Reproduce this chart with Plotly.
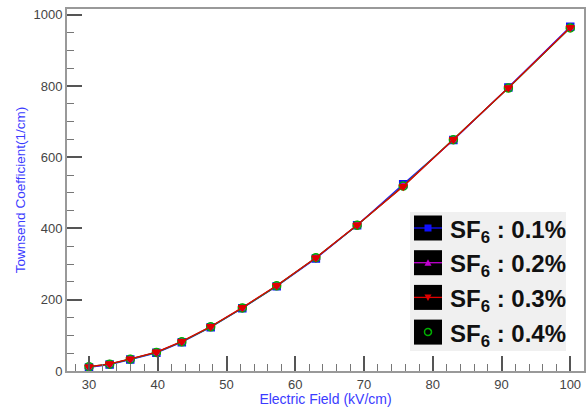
import plotly.graph_objects as go

# Electric field (kV/cm) and Townsend coefficient (1/cm) for each SF6 admixture
field = [30, 33, 36, 39.8, 43.5, 47.7, 52.3, 57.3, 63, 69, 75.7, 83, 91, 100]
alpha_sf6_01 = [10, 18, 32, 51, 81, 123, 176, 238, 316, 409, 524, 648, 796, 966]
alpha_sf6_02 = [11, 19, 33, 52, 82, 124, 177, 239, 317, 410, 520, 649, 795, 964]
alpha_sf6_03 = [12, 20, 34, 53, 83, 125, 178, 240, 318, 410, 518, 650, 795, 964]
alpha_sf6_04 = [12, 19, 33, 52, 82, 124, 177, 239, 318, 409, 519, 649, 794, 963]

labels = ["SF<sub>6</sub> : 0.1%", "SF<sub>6</sub> : 0.2%",
          "SF<sub>6</sub> : 0.3%", "SF<sub>6</sub> : 0.4%"]
x_ticks = [30, 40, 50, 60, 70, 80, 90, 100]
y_ticks = [0, 200, 400, 600, 800, 1000]

FONT = "Liberation Sans, Arial, sans-serif"
BLUE_TXT = "#3b3bff"

series = [
    (alpha_sf6_01, "#1010ff", "square", 7),
    (alpha_sf6_02, "#c000d0", "triangle-up", 7),
    (alpha_sf6_04, "#00b000", "circle-open", 8),
    (alpha_sf6_03, "#e00000", "triangle-down", 7),
]

fig = go.Figure()
for ys, col, sym, sz in series:
    fig.add_trace(go.Scatter(
        x=field, y=ys, mode="lines+markers",
        line=dict(color=col, width=1.3),
        marker=dict(symbol=sym, size=sz, color=col, line=dict(width=1.5, color=col)),
        showlegend=False, hoverinfo="x+y",
    ))

# Plot-area origin in page pixels, used to place the legend box
OX, OY = 67, 371


def pix(kind, x0, y0, x1, y1, **kw):
    return dict(type=kind, xref="paper", yref="paper", xsizemode="pixel",
                ysizemode="pixel", xanchor=0, yanchor=0,
                x0=x0 - OX, x1=x1 - OX, y0=OY - y0, y1=OY - y1, **kw)


def pix_path(points, **kw):
    d = "M" + " L".join(f"{px - OX},{OY - py}" for px, py in points) + " Z"
    return dict(type="path", xref="paper", yref="paper", xsizemode="pixel",
                ysizemode="pixel", xanchor=0, yanchor=0, path=d, **kw)


shapes = [pix("rect", 410, 212, 566, 351, fillcolor="#f0f0f0", line=dict(width=0), layer="above")]
legend_cols = ["#1010ff", "#c000d0", "#e00000", "#00b000"]
annotations = []
for i, (lab, col) in enumerate(zip(labels, legend_cols)):
    cy = 228 + 34.7 * i
    cx = 428
    shapes.append(pix("rect", 414, cy - 12.5, 442, cy + 12.5, fillcolor="#000000",
                      line=dict(width=0), layer="above"))
    if i < 3:
        shapes.append(pix("line", 414, cy, 442, cy, line=dict(color=col, width=1.3), layer="above"))
    if i == 0:
        shapes.append(pix("rect", cx - 3.5, cy - 3.5, cx + 3.5, cy + 3.5, fillcolor=col,
                          line=dict(width=0), layer="above"))
    elif i == 1:
        shapes.append(pix_path([(cx - 3.5, cy + 3), (cx + 3.5, cy + 3), (cx, cy - 3.5)],
                               fillcolor=col, line=dict(width=0), layer="above"))
    elif i == 2:
        shapes.append(pix_path([(cx - 3.5, cy - 3), (cx + 3.5, cy - 3), (cx, cy + 3.5)],
                               fillcolor=col, line=dict(width=0), layer="above"))
    else:
        shapes.append(pix("circle", cx - 3.5, cy - 3.5, cx + 3.5, cy + 3.5,
                          line=dict(color=col, width=1.5), layer="above"))
    annotations.append(dict(
        text=f"<b>{lab}</b>", xref="paper", yref="paper", x=0, y=0,
        xshift=448 - OX, yshift=OY - cy - 3, xanchor="left", yanchor="middle",
        showarrow=False, font=dict(family=FONT, size=24, color="#111111"),
    ))

axis_common = dict(
    ticks="inside", ticklen=15, tickwidth=1.5, tickcolor="#555555",
    showline=True, linecolor="#999999", linewidth=2, mirror=True,
    showgrid=False, zeroline=False,
    tickfont=dict(family=FONT, size=13, color="#444444"),
)

fig.update_layout(
    width=587, height=407,
    margin=dict(l=OX, r=1, t=9, b=407 - OY),
    paper_bgcolor="white", plot_bgcolor="white",
    showlegend=False,
    shapes=shapes, annotations=annotations,
    xaxis=dict(
        range=[26.8, 102], tickvals=x_ticks,
        minor=dict(dtick=2, tick0=0, ticks="inside", ticklen=7, tickwidth=1.2, tickcolor="#777777"),
        title=dict(text="Electric Field (kV/cm)", standoff=4,
                   font=dict(family=FONT, size=14, color=BLUE_TXT)),
        **axis_common,
    ),
    yaxis=dict(
        range=[0, 1016], tickvals=y_ticks,
        minor=dict(dtick=50, tick0=0, ticks="inside", ticklen=7, tickwidth=1.2, tickcolor="#777777"),
        title=dict(text="Townsend Coefficient(1/cm)", standoff=5,
                   font=dict(family=FONT, size=13.5, color=BLUE_TXT)),
        **axis_common,
    ),
)

fig.write_html("out.html")
